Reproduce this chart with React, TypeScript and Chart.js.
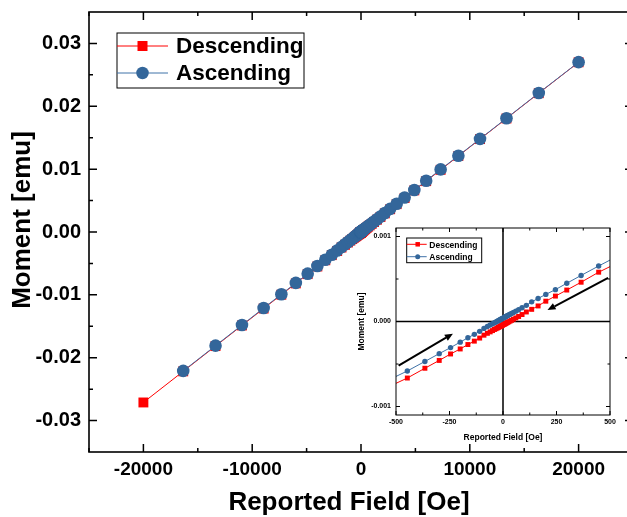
import React, { useEffect, useRef } from "react";
import { Chart, registerables } from "chart.js";

Chart.register(...registerables);

// ---------- data ----------
const SERIES_NAMES = ["Descending", "Ascending"];
const X_TITLE = "Reported Field [Oe]";
const Y_TITLE = "Moment [emu]";

const FIELD_DESC = [
  20000, 16340, 13370, 10940, 8950, 7320, 5990, 4900, 4010, 3280,
  2680, 2190, 1790, 1470, 1200, 980, 800, 655, 536, 447,
  365, 298, 245, 200, 164, 134, 109, 89, 73, 60,
  49, 40, 33, 27, 22, 18, 14, 11, 8, 5,
  2, -2, -5, -8, -11, -14, -18, -22, -27, -33,
  -40, -49, -60, -73, -89, -109, -134, -164, -200, -245,
  -298, -365, -447, -536, -655, -800, -980, -1200, -1470, -1790,
  -2190, -2680, -3280, -4010, -4900, -5990, -7320, -8950, -10940, -13370,
  -16340, -20000,
];
const MOMENT_DESC = [
  0.027, 0.02208, 0.01806, 0.01478, 0.01209, 0.00989, 0.00809, 0.00662, 0.00541, 0.00443,
  0.00362, 0.00296, 0.00239, 0.00196, 0.00159, 0.00129, 0.00105, 0.00085, 0.00069, 0.00058,
  0.000462, 0.00037, 0.000299, 0.000239, 0.000183, 0.000143, 0.000112, 0.000082, 0.000059, 0.000042,
  0.000027, 0.000014, 0.000005, -0.000003, -0.00001, -0.000015, -0.000021, -0.000025, -0.000029, -0.000033,
  -0.000037, -0.000043, -0.000047, -0.000051, -0.000055, -0.000059, -0.000064, -0.00007, -0.000077, -0.000085,
  -0.000094, -0.000107, -0.000122, -0.000139, -0.000161, -0.000195, -0.000231, -0.000271, -0.000323, -0.000382,
  -0.000458, -0.00055, -0.000665, -0.00077, -0.00093, -0.00113, -0.00137, -0.00167, -0.00204, -0.00247,
  -0.00302, -0.00368, -0.0045, -0.00549, -0.0067, -0.00818, -0.00998, -0.01218, -0.01487, -0.01815,
  -0.02217, -0.02712,
];

const FIELD_ASC = [
  -16340, -13370, -10940, -8950, -7320, -5990, -4900, -4010, -3280, -2680,
  -2190, -1790, -1470, -1200, -980, -800, -655, -536, -447, -365,
  -298, -245, -200, -164, -134, -109, -89, -73, -60, -49,
  -40, -33, -27, -22, -18, -14, -11, -8, -5, -2,
  2, 5, 8, 11, 14, 18, 22, 27, 33, 40,
  49, 60, 73, 89, 109, 134, 164, 200, 245, 298,
  365, 447, 536, 655, 800, 980, 1200, 1470, 1790, 2190,
  2680, 3280, 4010, 4900, 5990, 7320, 8950, 10940, 13370, 16340,
  20000,
];
const MOMENT_ASC = [
  -0.0221, -0.01808, -0.0148, -0.0121, -0.0099, -0.0081, -0.00663, -0.00542, -0.00442, -0.00361,
  -0.00294, -0.00239, -0.00196, -0.00159, -0.00129, -0.00105, -0.00085, -0.00069, -0.000582, -0.00047,
  -0.000378, -0.000307, -0.000243, -0.000191, -0.000151, -0.000116, -0.000081, -0.000059, -0.000042, -0.000027,
  -0.000014, -0.000005, 0.000003, 0.00001, 0.000015, 0.000021, 0.000025, 0.000029, 0.000033, 0.000037,
  0.000043, 0.000047, 0.000051, 0.000055, 0.000059, 0.000064, 0.00007, 0.000077, 0.000085, 0.000094,
  0.000107, 0.000122, 0.000139, 0.000161, 0.00019, 0.000231, 0.000271, 0.000319, 0.000375, 0.00045,
  0.000542, 0.000653, 0.00077, 0.00093, 0.00113, 0.00137, 0.00167, 0.00204, 0.00247, 0.00302,
  0.00368, 0.00449, 0.00548, 0.00669, 0.00816, 0.00996, 0.01214, 0.01482, 0.0181, 0.02212,
  0.02702,
];

const MAIN_X_TICKS = [-20000, -10000, 0, 10000, 20000];
const MAIN_X_MINOR = [-25000, -15000, -5000, 5000, 15000, 25000];
const MAIN_Y_TICKS = [-0.03, -0.02, -0.01, 0, 0.01, 0.02, 0.03];
const MAIN_Y_MINOR = [-0.025, -0.015, -0.005, 0.005, 0.015, 0.025];
const INSET_X_TICKS = [-500, -250, 0, 250, 500];
const INSET_X_MINOR = [-375, -125, 125, 375];
const INSET_Y_TICKS = [-0.001, 0, 0.001];
const INSET_Y_MINOR = [-0.0005, 0.0005];
// arrows in data units: [x0, y0, x1 (head), y1 (head)]
const INSET_ARROWS = [
  [-488, -0.00052, -234, -0.000143],
  [491, 0.000514, 208, 0.000135],
];

// ---------- style ----------
const FONT = "'Liberation Sans', Arial, sans-serif";
const RED = "#ff0000";
const BLUE = "#33669a";
const BLUE_LINE = "#3f72a8";

const toPoints = (xs: number[], ys: number[]) => xs.map((x, i) => ({ x, y: ys[i] }));

const fmt = (v: number, d: number) => {
  const n = Math.abs(v) < 1e-12 ? 0 : v;
  return n.toFixed(d);
};

// ---------- plugins ----------
const framePlugin = {
  id: "frame",
  beforeDraw(chart: any, _a: any, opts: any) {
    if (!opts.fill) return;
    const { left, top, right, bottom } = chart.chartArea;
    const ctx = chart.ctx;
    ctx.save();
    ctx.fillStyle = opts.fill;
    ctx.fillRect(left, top, right - left, bottom - top);
    ctx.restore();
  },
  beforeDatasetsDraw(chart: any, _a: any, opts: any) {
    if (!opts.zeroLines) return;
    const { left, top, right, bottom } = chart.chartArea;
    const ctx = chart.ctx;
    const x0 = chart.scales.x.getPixelForValue(0);
    const y0 = chart.scales.y.getPixelForValue(0);
    ctx.save();
    ctx.strokeStyle = "#000";
    ctx.lineWidth = opts.zeroWidth || 1.5;
    ctx.beginPath();
    ctx.moveTo(x0, top);
    ctx.lineTo(x0, bottom);
    ctx.moveTo(left, y0);
    ctx.lineTo(right, y0);
    ctx.stroke();
    ctx.restore();
  },
  afterDatasetsDraw(chart: any, _a: any, opts: any) {
    const { left, top, right, bottom } = chart.chartArea;
    const ctx = chart.ctx;
    const sx = chart.scales.x;
    const sy = chart.scales.y;
    ctx.save();
    ctx.strokeStyle = "#000";
    ctx.lineWidth = opts.lineWidth;
    ctx.strokeRect(left, top, right - left, bottom - top);
    ctx.lineWidth = opts.tickWidth;
    ctx.beginPath();
    const tx = (vals: number[], len: number) => {
      vals.forEach((v) => {
        const p = sx.getPixelForValue(v);
        ctx.moveTo(p, bottom);
        ctx.lineTo(p, bottom - len);
        ctx.moveTo(p, top);
        ctx.lineTo(p, top + len);
      });
    };
    const ty = (vals: number[], len: number) => {
      vals.forEach((v) => {
        const p = sy.getPixelForValue(v);
        ctx.moveTo(left, p);
        ctx.lineTo(left + len, p);
        ctx.moveTo(right, p);
        ctx.lineTo(right - len, p);
      });
    };
    tx(opts.majorX, opts.majorLen);
    tx(opts.minorX, opts.minorLen);
    ty(opts.majorY, opts.majorLen);
    ty(opts.minorY, opts.minorLen);
    ctx.stroke();
    ctx.restore();
  },
};

// axis titles placed relative to the chart area
const axisTitlePlugin = {
  id: "axisTitles",
  afterDraw(chart: any, _a: any, o: any) {
    if (!o.font) return;
    const ctx = chart.ctx;
    const { left, top, bottom } = chart.chartArea;
    ctx.save();
    ctx.fillStyle = "#000";
    ctx.font = o.font;
    ctx.textAlign = "center";
    ctx.textBaseline = "middle";
    ctx.fillText(o.xText, left + o.xdx, bottom + o.xdy);
    ctx.translate(o.yx, top + o.ydy);
    ctx.rotate(-Math.PI / 2);
    ctx.fillText(o.yText, 0, 0);
    ctx.restore();
  },
};

const arrowPlugin = {
  id: "arrows",
  afterDatasetsDraw(chart: any, _a: any, opts: any) {
    if (!opts.list) return;
    const ctx = chart.ctx;
    const sx = chart.scales.x;
    const sy = chart.scales.y;
    ctx.save();
    ctx.strokeStyle = "#000";
    ctx.fillStyle = "#000";
    ctx.lineWidth = opts.width;
    opts.list.forEach((a: number[]) => {
      const x0 = sx.getPixelForValue(a[0]);
      const y0 = sy.getPixelForValue(a[1]);
      const x1 = sx.getPixelForValue(a[2]);
      const y1 = sy.getPixelForValue(a[3]);
      const ang = Math.atan2(y1 - y0, x1 - x0);
      const hl = opts.headLen;
      const hw = opts.headWidth;
      const bx = x1 - hl * Math.cos(ang);
      const by = y1 - hl * Math.sin(ang);
      ctx.beginPath();
      ctx.moveTo(x0, y0);
      ctx.lineTo(bx, by);
      ctx.stroke();
      ctx.beginPath();
      ctx.moveTo(x1, y1);
      ctx.lineTo(bx + hw * Math.sin(ang), by - hw * Math.cos(ang));
      ctx.lineTo(bx - hw * Math.sin(ang), by + hw * Math.cos(ang));
      ctx.closePath();
      ctx.fill();
    });
    ctx.restore();
  },
};

const boxLegendPlugin = {
  id: "boxLegend",
  afterDraw(chart: any, _a: any, o: any) {
    const ctx = chart.ctx;
    const { left, top } = chart.chartArea;
    ctx.save();
    ctx.fillStyle = "#fff";
    ctx.fillRect(left + o.x, top + o.y, o.w, o.h);
    ctx.strokeStyle = "#000";
    ctx.lineWidth = o.border;
    ctx.strokeRect(left + o.x, top + o.y, o.w, o.h);
    o.rows.forEach((r: any) => {
      const y = top + r.y;
      ctx.strokeStyle = r.line;
      ctx.lineWidth = o.lineWidth;
      ctx.beginPath();
      ctx.moveTo(left + o.lx0, y);
      ctx.lineTo(left + o.lx1, y);
      ctx.stroke();
      ctx.fillStyle = r.color;
      const mx = left + o.mx;
      if (r.style === "rect") {
        ctx.fillRect(mx - r.size / 2, y - r.size / 2, r.size, r.size);
      } else {
        ctx.beginPath();
        ctx.arc(mx, y, r.size / 2, 0, Math.PI * 2);
        ctx.fill();
      }
      ctx.fillStyle = "#000";
      ctx.font = o.font;
      ctx.textBaseline = "middle";
      ctx.textAlign = "left";
      ctx.fillText(r.label, left + o.tx, y + 1);
    });
    ctx.restore();
  },
};

function buildDatasets(sq: number, circ: number) {
  return [
    {
      label: SERIES_NAMES[1],
      data: toPoints(FIELD_ASC, MOMENT_ASC),
      showLine: true,
      borderColor: BLUE_LINE,
      borderWidth: 1,
      pointStyle: "circle",
      pointRadius: circ,
      pointBackgroundColor: BLUE,
      pointBorderWidth: 0,
      order: 0,
    },
    {
      label: SERIES_NAMES[0],
      data: toPoints(FIELD_DESC, MOMENT_DESC),
      showLine: true,
      borderColor: RED,
      borderWidth: 1,
      pointStyle: "rect",
      pointRadius: sq,
      pointBackgroundColor: RED,
      pointBorderWidth: 0,
      order: 1,
    },
  ];
}

const zeroPad = (s: any) => {
  s.paddingTop = 0;
  s.paddingBottom = 0;
  s.paddingLeft = 0;
  s.paddingRight = 0;
};

export default function App() {
  const mainRef = useRef<HTMLCanvasElement>(null);
  const insetRef = useRef<HTMLCanvasElement>(null);

  useEffect(() => {
    document.body.style.margin = "0";
    document.documentElement.style.overflow = "hidden";
    const xTickFont = { family: FONT, size: 19, weight: "bold" as const };
    const yTickFont = { family: FONT, size: 20, weight: "bold" as const };

    const main = new Chart(mainRef.current as HTMLCanvasElement, {
      type: "scatter",
      data: { datasets: buildDatasets(7, 6.3) as any },
      options: {
        responsive: false,
        animation: false,
        events: [],
        layout: { padding: { top: 12, right: 4, left: 0, bottom: 0 } },
        plugins: {
          legend: { display: false },
          tooltip: { enabled: false },
          frame: {
            lineWidth: 1.6,
            tickWidth: 1.5,
            majorLen: 8,
            minorLen: 4,
            majorX: MAIN_X_TICKS,
            minorX: MAIN_X_MINOR,
            majorY: MAIN_Y_TICKS,
            minorY: MAIN_Y_MINOR,
          },
          axisTitles: {
            font: `bold 26px ${FONT}`,
            xText: X_TITLE,
            xdx: 260,
            xdy: 51,
            yText: Y_TITLE,
            yx: 23,
            ydy: 208,
          },
          boxLegend: {
            x: 28, y: 21, w: 187, h: 55, border: 1,
            lx0: 28, lx1: 79, mx: 53.5, tx: 87, lineWidth: 1,
            font: `bold 22.5px ${FONT}`,
            rows: [
              { y: 34, label: SERIES_NAMES[0], color: RED, line: RED, style: "rect", size: 10 },
              { y: 61, label: SERIES_NAMES[1], color: BLUE, line: BLUE_LINE, style: "circle", size: 12.5 },
            ],
          },
        } as any,
        scales: {
          x: {
            type: "linear",
            min: -25000,
            max: 25000,
            grid: { display: false, drawTicks: false },
            border: { display: false },
            afterBuildTicks: (s: any) => {
              s.ticks = MAIN_X_TICKS.map((v) => ({ value: v }));
            },
            afterFit: (s: any) => {
              s.height = 65;
              zeroPad(s);
            },
            ticks: {
              color: "#000",
              font: xTickFont,
              padding: 6,
              maxRotation: 0,
              autoSkip: false,
              callback: (v: any) => String(v),
            },
            title: { display: false },
          },
          y: {
            type: "linear",
            min: -0.035,
            max: 0.035,
            grid: { display: false, drawTicks: false },
            border: { display: false },
            afterBuildTicks: (s: any) => {
              s.ticks = MAIN_Y_TICKS.map((v) => ({ value: v }));
            },
            afterFit: (s: any) => {
              s.width = 89;
              zeroPad(s);
            },
            ticks: {
              color: "#000",
              font: yTickFont,
              padding: 8,
              autoSkip: false,
              callback: (v: any) => fmt(Number(v), 2),
            },
            title: { display: false },
          },
        },
      },
      plugins: [framePlugin, axisTitlePlugin, boxLegendPlugin],
    });

    const insTick = { family: FONT, size: 7, weight: "bold" as const };
    const insTitle = { family: FONT, size: 8.5, weight: "bold" as const };
    const inset = new Chart(insetRef.current as HTMLCanvasElement, {
      type: "scatter",
      data: { datasets: buildDatasets(3.5, 2.7) as any },
      options: {
        responsive: false,
        animation: false,
        events: [],
        layout: { padding: { top: 13, right: 17, left: 0, bottom: 0 } },
        plugins: {
          legend: { display: false },
          tooltip: { enabled: false },
          frame: {
            fill: "#ffffff",
            zeroLines: true,
            zeroWidth: 1.5,
            lineWidth: 1,
            tickWidth: 1,
            majorLen: 4,
            minorLen: 2.5,
            majorX: INSET_X_TICKS,
            minorX: INSET_X_MINOR,
            majorY: INSET_Y_TICKS,
            minorY: INSET_Y_MINOR,
          },
          arrows: { list: INSET_ARROWS, width: 2, headLen: 8, headWidth: 3.5 },
          boxLegend: {
            x: 10.7, y: 10, w: 75, h: 24.7, border: 1,
            lx0: 10.7, lx1: 30.7, mx: 21.7, tx: 33.3, lineWidth: 1,
            font: `bold 8.5px ${FONT}`,
            rows: [
              { y: 16.3, label: SERIES_NAMES[0], color: RED, line: RED, style: "rect", size: 4.5 },
              { y: 28.7, label: SERIES_NAMES[1], color: BLUE, line: BLUE_LINE, style: "circle", size: 5 },
            ],
          },
        } as any,
        scales: {
          x: {
            type: "linear",
            min: -500,
            max: 500,
            grid: { display: false, drawTicks: false },
            border: { display: false },
            afterBuildTicks: (s: any) => {
              s.ticks = INSET_X_TICKS.map((v) => ({ value: v }));
            },
            afterFit: (s: any) => {
              s.height = 40;
              zeroPad(s);
            },
            ticks: {
              color: "#000",
              font: insTick,
              padding: 3,
              maxRotation: 0,
              autoSkip: false,
              callback: (v: any) => String(v),
            },
            title: {
              display: true,
              text: X_TITLE,
              color: "#000",
              font: insTitle,
              padding: { top: 0, bottom: 12 },
            },
          },
          y: {
            type: "linear",
            min: -0.0011,
            max: 0.0011,
            grid: { display: false, drawTicks: false },
            border: { display: false },
            afterBuildTicks: (s: any) => {
              s.ticks = INSET_Y_TICKS.map((v) => ({ value: v }));
            },
            afterFit: (s: any) => {
              s.width = 56;
              zeroPad(s);
            },
            ticks: {
              color: "#000",
              font: insTick,
              padding: 5,
              autoSkip: false,
              callback: (v: any) => fmt(Number(v), 3),
            },
            title: {
              display: true,
              text: Y_TITLE,
              color: "#000",
              font: insTitle,
              padding: { top: 17, bottom: 0 },
            },
          },
        },
      },
      plugins: [framePlugin, arrowPlugin, boxLegendPlugin],
    });

    return () => {
      main.destroy();
      inset.destroy();
    };
  }, []);

  return (
    <div
      style={{
        position: "fixed",
        left: 0,
        top: 0,
        width: 627,
        height: 517,
        overflow: "hidden",
        background: "#fff",
      }}
    >
      <canvas
        ref={mainRef}
        width={640}
        height={517}
        style={{ position: "absolute", left: 0, top: 0, width: 640, height: 517 }}
      />
      <canvas
        ref={insetRef}
        width={287}
        height={240}
        style={{ position: "absolute", left: 340, top: 215, width: 287, height: 240 }}
      />
    </div>
  );
}
